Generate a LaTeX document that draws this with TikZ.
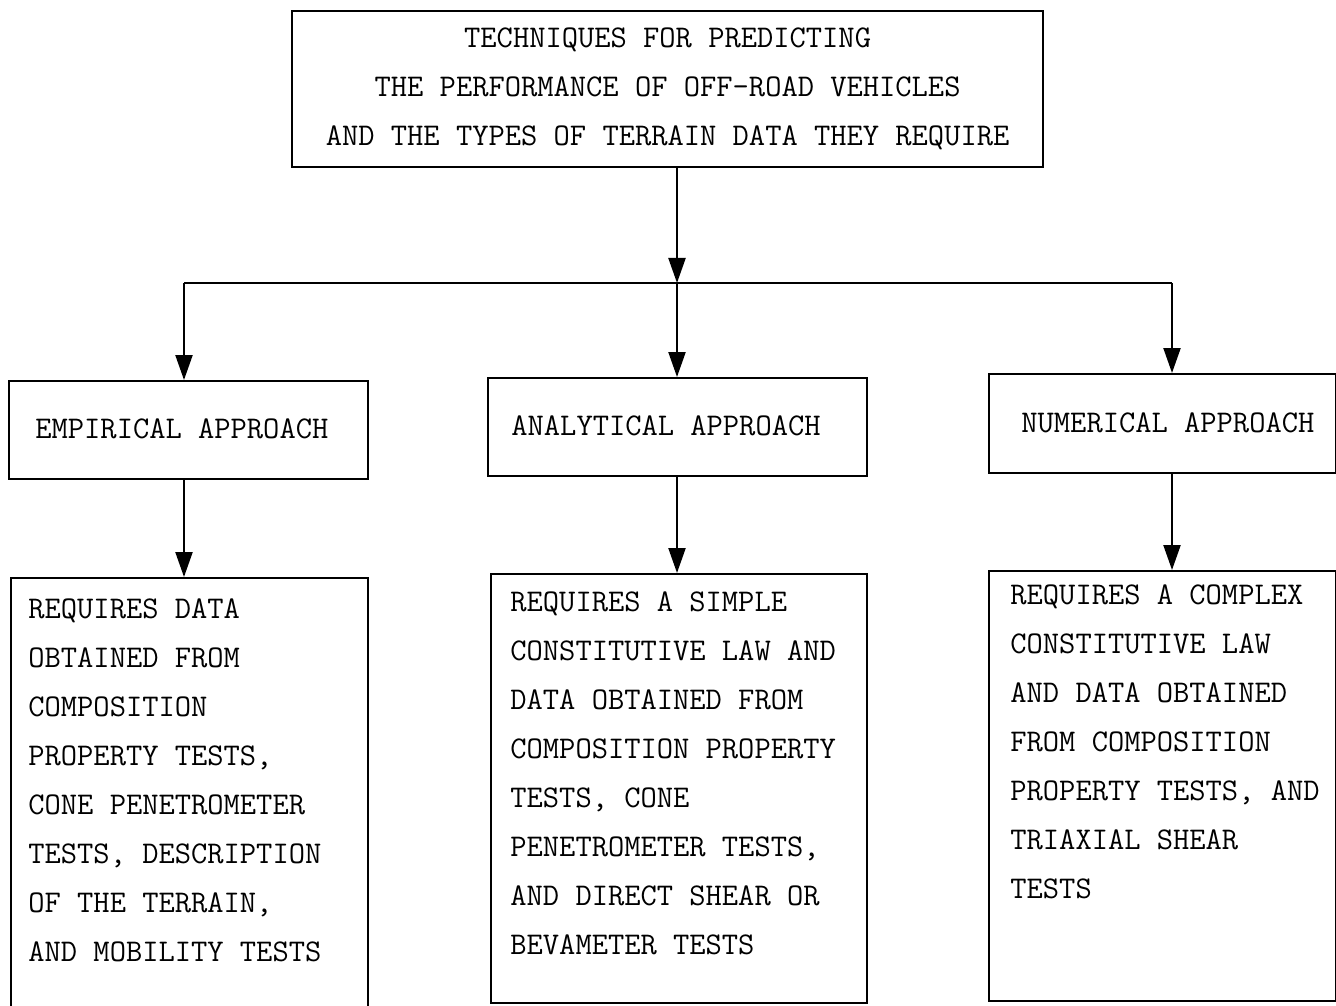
\documentclass[tikz,border=0pt]{standalone}
\usepackage{fontspec}
\usetikzlibrary{arrows.meta}
\newcommand\mytt{\fontsize{15.8pt}{24.5pt}\selectfont\ttfamily}
\begin{document}
\begin{tikzpicture}[x=0.5pt,y=-0.5pt,
  box/.style={draw, line width=1.1pt, inner sep=0pt, anchor=north west},
  txt/.style={font=\mytt, align=left, inner sep=0pt, anchor=north west},
  midtxt/.style={font=\mytt, inner sep=0pt, anchor=west},
  ln/.style={line width=1.1pt},
  arr/.style={line width=1.1pt, -{Triangle[length=12.5pt,width=8.5pt]}}]
\useasboundingbox (0,0) rectangle (1336,1005);
\clip (0,0) rectangle (1336,1005);
% top box
\node[box, font=\mytt, align=center, minimum width=375.5pt, minimum height=78pt] (top) at (291,10)
  {TECHNIQUES FOR PREDICTING\\THE PERFORMANCE OF OFF-ROAD VEHICLES\\AND THE TYPES OF TERRAIN DATA THEY REQUIRE};
% middle boxes
\node[box, minimum width=179.5pt, minimum height=49pt] (emp) at (8,380) {};
\node[box, minimum width=189.5pt, minimum height=49pt] (ana) at (487,377) {};
\node[box, minimum width=173.5pt, minimum height=49.5pt] (num) at (988,373) {};
\node[midtxt] (empt) at (35,429) {EMPIRICAL APPROACH};
\node[midtxt] (anat) at (511,426) {ANALYTICAL APPROACH};
\node[midtxt] (numt) at (1021,423) {NUMERICAL APPROACH};
% bottom boxes
\node[box, minimum width=178.5pt, minimum height=230pt] (req1) at (10,577) {};
\node[box, minimum width=188pt, minimum height=214.5pt] (req2) at (490,573) {};
\node[box, minimum width=173.5pt, minimum height=215pt] (req3) at (988,570) {};
\node[txt] (t1) at (28,598) {REQUIRES DATA\\OBTAINED FROM\\COMPOSITION\\PROPERTY TESTS,\\CONE PENETROMETER\\TESTS, DESCRIPTION\\OF THE TERRAIN,\\AND MOBILITY TESTS};
\node[txt] (t2) at (510,591) {REQUIRES A SIMPLE\\CONSTITUTIVE LAW AND\\DATA OBTAINED FROM\\COMPOSITION PROPERTY\\TESTS, CONE\\PENETROMETER TESTS,\\AND DIRECT SHEAR OR\\BEVAMETER TESTS};
\node[txt] (t3) at (1010,584) {REQUIRES A COMPLEX\\CONSTITUTIVE LAW\\AND DATA OBTAINED\\FROM COMPOSITION\\PROPERTY TESTS, AND\\TRIAXIAL SHEAR\\TESTS};
% bus
\coordinate (bL) at (184,283);
\coordinate (bM) at (677,283);
\coordinate (bR) at (1172,283);
\draw[ln] (bL) -- (bR);
\draw[arr] (top.south -| bM) -- (bM);
\draw[arr] (bL) -- (bL |- emp.north);
\draw[arr] (bM) -- (bM |- ana.north);
\draw[arr] (bR) -- (bR |- num.north);
\draw[arr] (emp.south -| bL) -- (bL |- req1.north);
\draw[arr] (ana.south -| bM) -- (bM |- req2.north);
\draw[arr] (num.south -| bR) -- (bR |- req3.north);
\end{tikzpicture}
\end{document}
